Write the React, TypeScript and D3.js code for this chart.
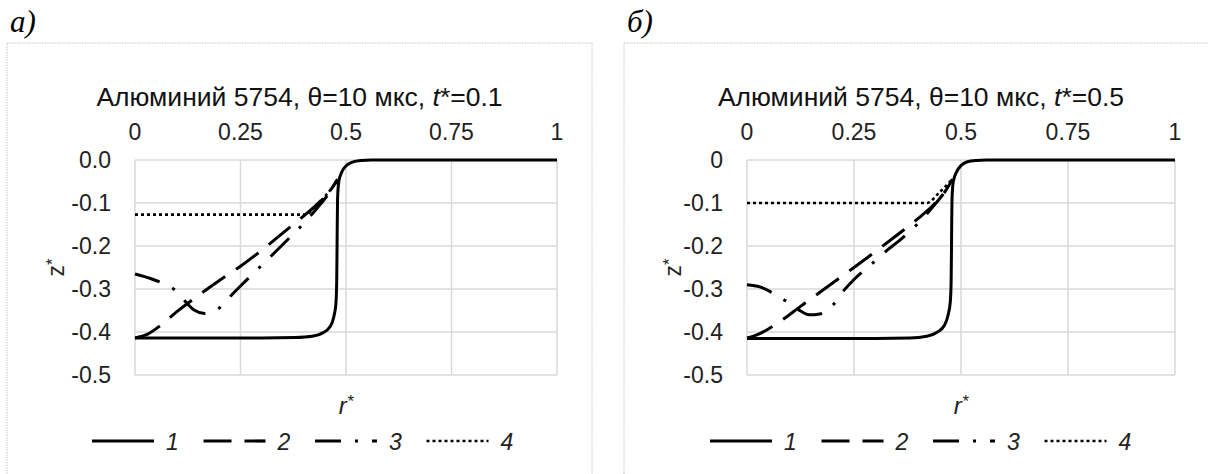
import React from "react";
import * as d3 from "d3";

// axis ticks
const rTicks = [0, 0.25, 0.5, 0.75, 1];
const rTickLabels = ["0", "0.25", "0.5", "0.75", "1"];
const zTicks = [0, -0.1, -0.2, -0.3, -0.4, -0.5];
const legendLabels = ["1", "2", "3", "4"];

// panel а) t*=0.1  — [r*, z*]
const solidA: [number, number][] = [
  [0, -0.414], [0.1, -0.414], [0.2, -0.414], [0.3, -0.414], [0.38, -0.413], [0.42, -0.41],
  [0.445, -0.402], [0.462, -0.388], [0.471, -0.365], [0.476, -0.335], [0.478, -0.28],
  [0.479, -0.18], [0.48, -0.09], [0.483, -0.05], [0.49, -0.028], [0.5, -0.014],
  [0.515, -0.005], [0.535, -0.001], [0.56, 0], [0.75, 0], [1, 0],
];
const dashedA: [number, number][] = [
  [0, -0.414], [0.03, -0.405], [0.06, -0.385], [0.1, -0.352], [0.15, -0.315], [0.2, -0.28],
  [0.25, -0.247], [0.3, -0.21], [0.35, -0.17], [0.4, -0.13], [0.44, -0.095], [0.465, -0.068],
  [0.48, -0.045],
];
const dashDotA: [number, number][] = [
  [0, -0.265], [0.035, -0.275], [0.066, -0.287], [0.094, -0.302], [0.12, -0.33], [0.14, -0.349],
  [0.165, -0.357], [0.19, -0.351], [0.21, -0.335], [0.23, -0.313], [0.25, -0.293], [0.3, -0.245],
  [0.355, -0.192], [0.4, -0.147], [0.44, -0.102], [0.465, -0.07], [0.48, -0.045],
];
const dottedA: [number, number][] = [
  [0, -0.127], [0.2, -0.127], [0.405, -0.127], [0.425, -0.11], [0.45, -0.085], [0.47, -0.06],
  [0.48, -0.045],
];

// panel б) t*=0.5
const solidB: [number, number][] = [
  [0, -0.415], [0.1, -0.415], [0.2, -0.415], [0.3, -0.415], [0.38, -0.414], [0.42, -0.41],
  [0.445, -0.4], [0.461, -0.385], [0.47, -0.36], [0.475, -0.33], [0.477, -0.28],
  [0.478, -0.18], [0.479, -0.09], [0.482, -0.05], [0.49, -0.027], [0.5, -0.013],
  [0.515, -0.004], [0.535, -0.001], [0.56, 0], [0.75, 0], [1, 0],
];
const dashedB: [number, number][] = [
  [0, -0.414], [0.02, -0.408], [0.05, -0.393], [0.082, -0.372], [0.119, -0.345], [0.16, -0.315],
  [0.2, -0.286], [0.25, -0.25], [0.3, -0.213], [0.35, -0.175], [0.4, -0.136], [0.44, -0.1],
  [0.465, -0.07], [0.48, -0.045],
];
const dashDotB: [number, number][] = [
  [0, -0.29], [0.03, -0.295], [0.058, -0.308], [0.089, -0.327], [0.12, -0.348], [0.145, -0.36],
  [0.17, -0.358], [0.2, -0.338], [0.225, -0.305], [0.25, -0.278], [0.29, -0.243], [0.327, -0.21],
  [0.353, -0.19], [0.4, -0.147], [0.44, -0.102], [0.465, -0.07], [0.48, -0.045],
];
const dottedB: [number, number][] = [
  [0, -0.1], [0.2, -0.1], [0.42, -0.1], [0.45, -0.075], [0.47, -0.055], [0.48, -0.045],
];

const dashes = [null, "28,13", "26,14,3,14", "3,3"];
const font = "'Liberation Sans', Arial, sans-serif";

type PanelProps = {
  tag: string;
  tStar: string;
  frameX0: number;
  frameX1: number;
  plotX0: number;
  plotX1: number;
  legendX: number;
  series: [number, number][][];
  fmt: (v: number) => string;
};

function Panel(p: PanelProps) {
  const x = d3.scaleLinear().domain([0, 1]).range([p.plotX0, p.plotX1]);
  const y = d3.scaleLinear().domain([0, -0.5]).range([160, 375]);
  const line = d3
    .line<[number, number]>()
    .x((d) => x(d[0]))
    .y((d) => y(d[1]))
    .curve(d3.curveMonotoneX);
  const cx = (p.frameX0 + p.frameX1) / 2;
  const midPlot = (p.plotX0 + p.plotX1) / 2;

  return (
    <g>
      <text x={p.frameX0 + 3} y={32} fontFamily="'Liberation Serif', 'Times New Roman', serif"
        fontStyle="italic" fontSize={31}>{p.tag}</text>
      <rect x={p.frameX0} y={43} width={p.frameX1 - p.frameX0} height={474}
        fill="none" stroke="#c4c4c4" strokeWidth={1} strokeDasharray="1.5,1" />
      <text x={cx} y={106} textAnchor="middle" fontFamily={font} fontSize={26.5} fill="#111">
        Алюминий 5754, θ=10 мкс, <tspan fontStyle="italic">t</tspan>*={p.tStar}
      </text>

      {/* grid */}
      {zTicks.map((t) => (
        <line key={"h" + t} x1={p.plotX0} x2={p.plotX1} y1={y(t)} y2={y(t)}
          stroke="#d9d9d9" strokeWidth={1.5} />
      ))}
      {rTicks.map((t) => (
        <line key={"v" + t} x1={x(t)} x2={x(t)} y1={y(0)} y2={y(-0.5)}
          stroke="#d9d9d9" strokeWidth={1.5} />
      ))}

      {/* ticks */}
      {rTicks.map((t, i) => (
        <text key={"rt" + t} x={x(t)} y={140} textAnchor="middle" fontFamily={font}
          fontSize={23} fill="#222">{rTickLabels[i]}</text>
      ))}
      {zTicks.map((t) => (
        <text key={"zt" + t} x={p.plotX0 - 24} y={y(t) + 8} textAnchor="end"
          fontFamily={font} fontSize={23} fill="#222">{p.fmt(t)}</text>
      ))}

      <text transform={`translate(${p.frameX0 + 57},${y(-0.25)}) rotate(-90)`}
        textAnchor="middle" fontFamily={font} fontSize={23} fill="#222">
        z<tspan dy={-6} fontSize={17}>*</tspan>
      </text>
      <text x={midPlot} y={414} textAnchor="middle" fontFamily={font} fontStyle="italic"
        fontSize={24} fill="#222">
        r<tspan dy={-7} fontSize={17}>*</tspan>
      </text>

      {/* series */}
      {p.series.map((s, i) => (
        <path key={"s" + i} d={line(s) || ""} fill="none" stroke="#000"
          strokeWidth={i === 3 ? 2.6 : 3} strokeDasharray={dashes[i] || undefined} />
      ))}

      {/* legend */}
      {legendLabels.map((l, i) => {
        const lx = p.legendX + i * 111.5;
        return (
          <g key={"lg" + l}>
            <line x1={lx} x2={lx + 62} y1={441} y2={441} stroke="#000"
              strokeWidth={i === 3 ? 2.6 : 3.2} strokeDasharray={dashes[i] || undefined} />
            <text x={lx + 74} y={450} fontFamily={font} fontStyle="italic" fontSize={23}
              fill="#222">{l}</text>
          </g>
        );
      })}
    </g>
  );
}

const fmtA = (v: number) => v.toFixed(1).replace("−", "-");
const fmtB = (v: number) => (v === 0 ? "0" : v.toFixed(1));

export default function App() {
  return (
    <svg width={1208} height={474} style={{ position: "absolute", left: 0, top: 0, background: "#fff" }}>
      <Panel tag="а)" tStar="0.1" frameX0={7} frameX1={592} plotX0={135} plotX1={557}
        legendX={92} series={[solidA, dashedA, dashDotA, dottedA]} fmt={fmtA} />
      <Panel tag="б)" tStar="0.5" frameX0={624} frameX1={1218} plotX0={747} plotX1={1175}
        legendX={710} series={[solidB, dashedB, dashDotB, dottedB]} fmt={fmtB} />
    </svg>
  );
}
